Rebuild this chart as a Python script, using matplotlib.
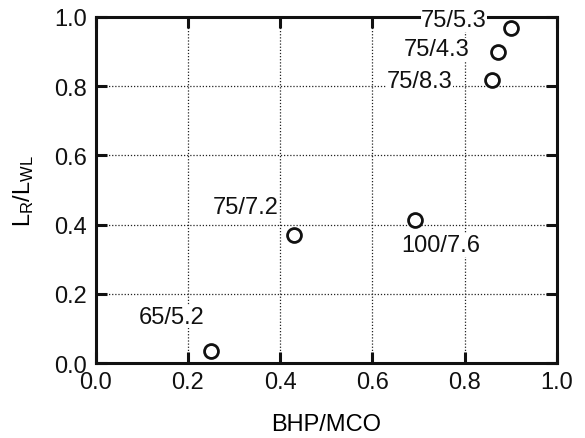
import numpy as np
import matplotlib
matplotlib.use("Agg")
import matplotlib.pyplot as plt

plt.rcParams['font.family'] = ['Liberation Sans', 'DejaVu Sans']
plt.rcParams['mathtext.fontset'] = 'custom'
plt.rcParams['mathtext.rm'] = 'Liberation Sans'
plt.rcParams['mathtext.it'] = 'Liberation Sans'

BHP_MCO = [0.25, 0.43, 0.692, 0.90, 0.872, 0.859]
LR_LWL  = [0.035, 0.369, 0.413, 0.968, 0.90, 0.817]
LABELS  = ["65/5.2", "75/7.2", "100/7.6", "75/5.3", "75/4.3", "75/8.3"]
LABEL_X = [0.164, 0.326, 0.749, 0.777, 0.740, 0.703]
LABEL_Y = [0.134, 0.450, 0.340, 0.990, 0.907, 0.814]

TICKS = [0.0, 0.2, 0.4, 0.6, 0.8, 1.0]

fig = plt.figure(figsize=(5.85, 4.39), dpi=100)
ax = fig.add_axes([0.1636, 0.1708, 0.7884, 0.7882])

ax.plot(BHP_MCO, LR_LWL, 'o', markersize=10, markerfacecolor='white',
        markeredgecolor='#111111', markeredgewidth=2.0, zorder=5, clip_on=False)

for lx, ly, t in zip(LABEL_X, LABEL_Y, LABELS):
    ax.text(lx, ly, t, ha='center', va='center', fontsize=17, color='#111111',
            bbox=dict(facecolor='white', edgecolor='none', pad=0.3), zorder=4,
            clip_on=False)

ax.set_xlim(0, 1)
ax.set_ylim(0, 1)
ax.set_xticks(TICKS)
ax.set_yticks(TICKS)
ax.set_xticklabels([f"{t:.1f}" for t in TICKS], fontsize=17)
ax.set_yticklabels([f"{t:.1f}" for t in TICKS], fontsize=17)
ax.tick_params(direction='in', length=8, width=2.2, top=True, right=True,
               colors='#111111', pad=6)
ax.grid(True, linestyle=(0, (1, 1.5)), color='#222222', linewidth=0.9)
ax.set_axisbelow(True)
for s in ax.spines.values():
    s.set_linewidth(2.2)
    s.set_color('#111111')

ax.set_xlabel("BHP/MCO", fontsize=17, labelpad=14)
ax.set_ylabel(r"$\mathregular{L_R/L_{WL}}$", fontsize=17, labelpad=13)

fig.savefig("out.png", dpi=100)
